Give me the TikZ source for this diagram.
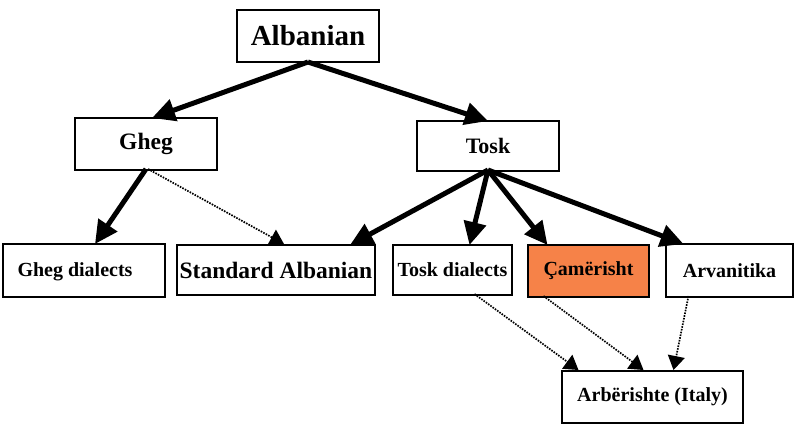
\documentclass[tikz,border=0pt]{standalone}
\usepackage{fontspec}
\setmainfont{Liberation Serif}
\usetikzlibrary{arrows.meta}
\definecolor{camfill}{RGB}{246,130,72}
\begin{document}
\begin{tikzpicture}[x=1pt,y=-1pt,
  box/.style={draw=black,line width=2pt,inner sep=0pt,font=\bfseries},
  big/.style={font=\fontsize{29}{31}\selectfont\bfseries},
  mid/.style={font=\fontsize{23.5}{26}\selectfont\bfseries},
  small/.style={font=\fontsize{20}{22}\selectfont\bfseries},
  solidarrow/.style={line width=5pt,-{Triangle[length=23pt,width=22pt]}},
  dotarrow/.style={line width=1.7pt,dash pattern=on 1.6pt off 1.2pt,-{Triangle[length=14pt,width=17pt]}}]
\useasboundingbox (0,0) rectangle (800,434);
\fill[white] (0,0) rectangle (800,434);
% nodes
\node[box,big,minimum width=142,minimum height=52] (alb) at (308,36) {\raisebox{-4pt}{Albanian}};
\node[box,mid,minimum width=142,minimum height=52] (gheg) at (146,144) {\raisebox{-2pt}{Gheg}};
\node[box,minimum width=142,minimum height=50,font=\fontsize{22}{24}\selectfont\bfseries] (tosk) at (488,146) {\raisebox{-1pt}{Tosk}};
\node[box,minimum width=162,minimum height=53] (gdial) at (84,270.5) {};
\node[small,anchor=center] (gdialtxt) at (75,271.5) {Gheg dialects};
\node[box,mid,minimum width=198,minimum height=50] (std) at (276,270) {Standard Albanian};
\node[box,small,minimum width=119,minimum height=50] (tdial) at (452.5,270) {Tosk dialects};
\node[box,small,fill=camfill,minimum width=121,minimum height=52] (cam) at (588.5,271) {Çamërisht};
\node[box,small,minimum width=127,minimum height=53] (arv) at (729.5,270.5) {Arvanitika};
\node[box,small,minimum width=181,minimum height=52] (arb) at (652.5,397) {Arbërishte (Italy)};
% solid connectors
\draw[solidarrow] ([yshift=1pt]alb.south) -- ([xshift=6pt,yshift=-1pt]gheg.north);
\draw[solidarrow] ([yshift=1pt]alb.south) -- ([yshift=-1pt]tosk.north);
\draw[solidarrow] ([yshift=2pt]gheg.south) -- ([xshift=11pt,yshift=-1pt]gdial.north);
\draw[solidarrow] ([yshift=2pt]tosk.south) -- ([xshift=74pt,yshift=-1pt]std.north);
\draw[solidarrow] ([yshift=2pt]tosk.south) -- ([xshift=17pt,yshift=-1pt]tdial.north);
\draw[solidarrow] ([yshift=2pt]tosk.south) -- ([xshift=-41pt,yshift=-1pt]cam.north);
\draw[solidarrow] ([yshift=2pt]tosk.south) -- ([xshift=-46pt,yshift=-1pt]arv.north);
% dotted connectors
\draw[dotarrow] ([xshift=2pt,yshift=2pt]gheg.south) -- ([xshift=8pt]std.north);
\draw[dotarrow] ([xshift=22pt,yshift=2pt]tdial.south) -- ([xshift=-74pt]arb.north);
\draw[dotarrow] ([xshift=-45pt,yshift=2pt]cam.south) -- ([xshift=-9pt]arb.north);
\draw[dotarrow] ([xshift=-41pt,yshift=2pt]arv.south) -- ([xshift=21pt]arb.north);
\end{tikzpicture}
\end{document}
